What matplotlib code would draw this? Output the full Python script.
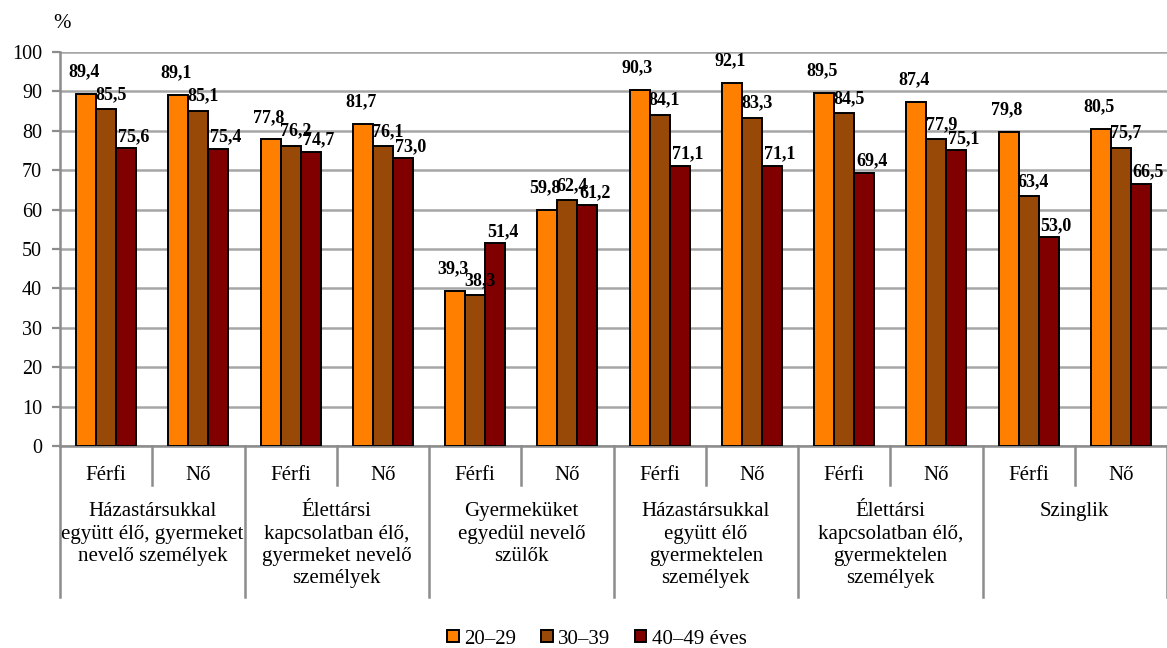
import matplotlib
matplotlib.use("Agg")
import matplotlib.pyplot as plt
import numpy as np

plt.rcParams["font.family"] = ["Liberation Serif", "DejaVu Serif"]

groups = [
    "Házastársukkal\negyütt élő, gyermeket\nnevelő személyek",
    "Élettársi\nkapcsolatban élő,\ngyermeket nevelő\nszemélyek",
    "Gyermeküket\negyedül nevelő\nszülők",
    "Házastársukkal\negyütt élő\ngyermektelen\nszemélyek",
    "Élettársi\nkapcsolatban élő,\ngyermektelen\nszemélyek",
    "Szinglik",
]
sexes = ["Férfi", "Nő"]
series_names = ["20–29", "30–39", "40–49 éves"]
colors = ["#FF8000", "#984807", "#800000"]

age_20_29 = [89.4, 89.1, 77.8, 81.7, 39.3, 59.8, 90.3, 92.1, 89.5, 87.4, 79.8, 80.5]
age_30_39 = [85.5, 85.1, 76.2, 76.1, 38.3, 62.4, 84.1, 83.3, 84.5, 77.9, 63.4, 75.7]
age_40_49 = [75.6, 75.4, 74.7, 73.0, 51.4, 61.2, 71.1, 71.1, 69.4, 75.1, 53.0, 66.5]

series = [age_20_29, age_30_39, age_40_49]
# label offsets in points (dx, dy) from bar top to label centre, per series
label_offsets = [(-1.5, 16), (3.5, 10.5), (5.5, 8.5)]

fig = plt.figure(figsize=(11.67, 6.48), dpi=100)
ax = fig.add_axes([60 / 1167, 1 - 446 / 648, 1 - 60 / 1167, 394 / 648])

n = len(age_20_29)
x = np.arange(n)
w = 0.217
for i, (vals, name, col) in enumerate(zip(series, series_names, colors)):
    pos = x + (i - 1) * w
    ax.bar(pos, vals, width=w, color=col, edgecolor="black", linewidth=1.4,
           label=name, zorder=3)
    dx, dy = label_offsets[i]
    for px, v in zip(pos, vals):
        ax.annotate(f"{v:.1f}".replace(".", ","), (px, v), xytext=(dx, dy),
                    textcoords="offset points", ha="center", va="center",
                    fontsize=13, fontweight="bold", zorder=4,
                    annotation_clip=False)

ax.set_xlim(-0.5, n - 0.5)
ax.set_ylim(0, 100)
ax.set_yticks(range(0, 101, 10))
ax.tick_params(axis="y", labelsize=14.5, length=6, width=1.6, color="#8c8c8c", pad=7)
ax.tick_params(axis="x", length=0, labelbottom=False)
ax.yaxis.grid(True, color="#a6a6a6", linewidth=1.8, zorder=0)
ax.set_axisbelow(True)
for s in ["top", "right"]:
    ax.spines[s].set_visible(False)
ax.spines["left"].set_color("#8c8c8c")
ax.spines["left"].set_linewidth(1.8)
ax.spines["bottom"].set_color("#8c8c8c")
ax.spines["bottom"].set_linewidth(1.8)

# two-level category axis
trans = ax.get_xaxis_transform()
for k in range(n):
    ax.text(k, -29 / 394, sexes[k % 2], transform=trans, ha="center",
            va="center", fontsize=15)
for k in range(n + 1):
    depth = -151 / 394 if k % 2 == 0 else -39 / 394
    ax.plot([k - 0.5, k - 0.5], [0, depth], transform=trans, color="#8c8c8c",
            linewidth=1.8, clip_on=False)
for g, name in enumerate(groups):
    ax.text(2 * g + 0.5, -56 / 394, name, transform=trans, ha="center",
            va="top", fontsize=15, linespacing=1.25)

fig.text(62 / 1167, 1 - 24 / 648, "%", fontsize=15, ha="center", va="center")

fig.legend(loc="center", bbox_to_anchor=(597 / 1167, 1 - 639 / 648), ncol=3,
           frameon=False, fontsize=15, handlelength=0.55, handleheight=0.55,
           handletextpad=0.25, columnspacing=1.2)

fig.savefig("out.png", dpi=100)
